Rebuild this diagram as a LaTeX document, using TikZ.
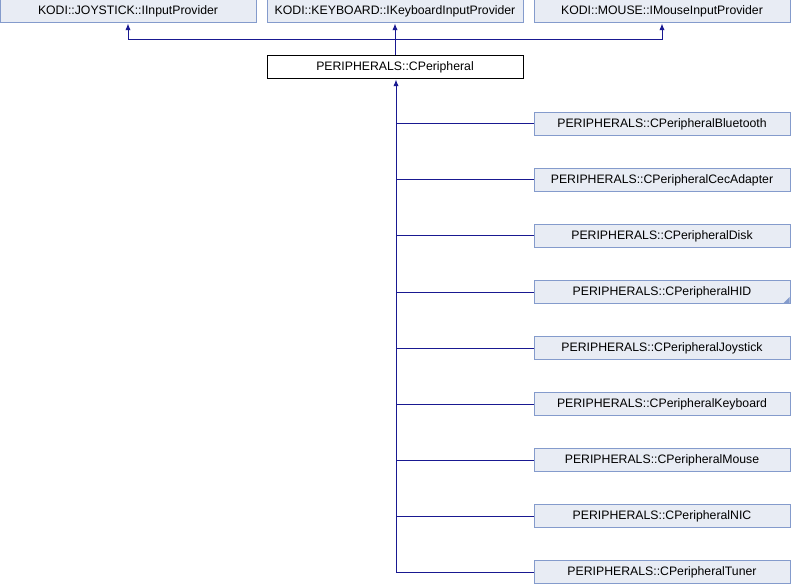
\documentclass[tikz,border=0pt]{standalone}
\usepackage{fontspec}
\setmainfont{Liberation Sans}
\usetikzlibrary{arrows.meta}
\definecolor{boxfill}{RGB}{232,236,244}
\definecolor{boxline}{RGB}{132,155,204}
\definecolor{edgeblue}{RGB}{25,25,145}
\tikzset{
  x=0.75pt, y=-0.75pt,
  cls/.style={draw=boxline, fill=boxfill, line width=0.75pt, minimum width=256*0.75pt,
    minimum height=23*0.75pt, inner sep=0pt, font=\fontsize{9.2}{11}\selectfont, anchor=center},
  base/.style={cls, draw=black, fill=white},
  inherit/.style={draw=edgeblue, line width=0.75pt, -{Latex[length=5pt,width=4pt]}},
  link/.style={draw=edgeblue, line width=0.75pt},
}
\begin{document}
\begin{tikzpicture}
\useasboundingbox (0,0) rectangle (791,584);
% interfaces
\node[cls] (joy) at (128,11.5) {KODI::JOYSTICK::IInputProvider};
\node[cls] (kbd) at (395,11.5) {KODI::KEYBOARD::IKeyboardInputProvider};
\node[cls] (mouse) at (662,11.5) {KODI::MOUSE::IMouseInputProvider};
% base class
\node[base] (per) at (395,67.5) {PERIPHERALS::CPeripheral};
% derived classes
\foreach \n/\t [count=\i from 0] in {bt/Bluetooth,cec/CecAdapter,disk/Disk,hid/HID,joyst/Joystick,kb/Keyboard,ms/Mouse,nic/NIC,tun/Tuner}{
  \node[cls] (\n) at (662,124+56*\i) {PERIPHERALS::CPeripheral\t};
}
% more-children marker on HID
\fill[boxline] (hid.south east) ++(-1,-1) -- ++(0,-6) -- ++(-6,6) -- cycle;
% inheritance from the interfaces
\coordinate (hub) at (395,40);
\draw[inherit] (per.north) -- (kbd.south);
\draw[inherit] (hub) -| (joy.south);
\draw[inherit] (hub) -| (mouse.south);
% inheritance from CPeripheral
\coordinate (trunk) at (396,572);
\draw[inherit] (trunk) -- (per.south -| trunk);
\foreach \n in {bt,cec,disk,hid,joyst,kb,ms,nic,tun}{
  \draw[link] (\n.west) -- (\n.west -| trunk);
}
\end{tikzpicture}
\end{document}
